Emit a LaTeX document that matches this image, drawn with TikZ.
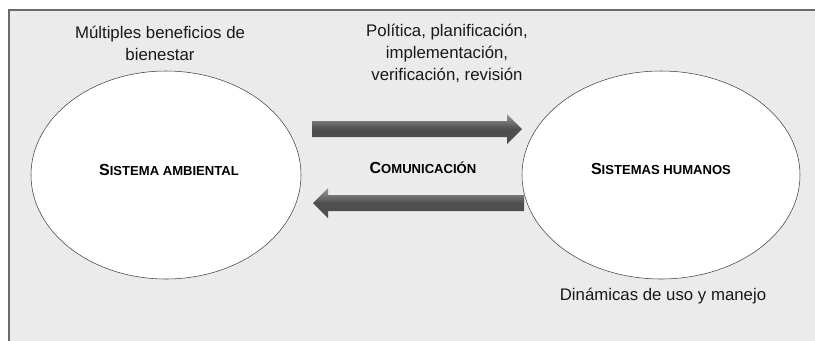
\documentclass[tikz,border=0pt]{standalone}
\usepackage{fontspec}
\setmainfont{Liberation Sans}
\usetikzlibrary{shapes.geometric,calc}
\definecolor{bgc}{HTML}{EAEBEA}
\definecolor{framec}{HTML}{6A6A6A}
\definecolor{arrdark}{HTML}{4E4E4E}
\definecolor{arrlight}{HTML}{9A9A9A}
\newcommand{\mysc}[2]{{\bfseries\fontsize{12}{14}\selectfont #1\fontsize{9.8}{14}\selectfont #2}}
\tikzset{
  sysell/.style={ellipse, draw=black!75, line width=0.4pt, fill=white, inner sep=0pt},
  lbl/.style={font=\fontsize{12.6}{16.5}\selectfont, align=center, text=black!90, inner sep=0pt},
  arrowbody/.style={top color=arrlight, bottom color=arrdark, middle color=arrdark, draw=none},
}
\begin{document}
\begin{tikzpicture}[x=0.75pt,y=-0.75pt]
\useasboundingbox (0,0) rectangle (815,340);
\fill[white] (0,0) rectangle (815,340);
\fill[bgc] (9,10) rectangle (816,341);
\draw[framec, line width=1.3pt] (9,341) -- (9,10) -- (816,10);

\node[sysell, minimum width=202.5pt, minimum height=156pt] (amb) at (166,175) {};
\node[sysell, minimum width=208.5pt, minimum height=156pt] (hum) at (661,175) {};
\node at (169,170) {\mysc{S}{ISTEMA AMBIENTAL}};
\node at (661,169) {\mysc{S}{ISTEMAS HUMANOS}};
\node (com) at (423,168) {\mysc{C}{OMUNICACIÓN}};

\node[lbl] (ben) at (160,43) {Múltiples beneficios de\\bienestar};
\node[lbl] (pol) at (447,53) {Política, planificación,\\implementación,\\verificación, revisión};
\node[lbl] (din) at (663,296) {Dinámicas de uso y manejo};

% top arrow: left to right
\coordinate (t1) at (312,129);
\coordinate (t2) at (522,129);
\shade[arrowbody] ($(t1)+(0,-8)$) -- ($(t2)+(-15,-8)$) -- ($(t2)+(-15,-15)$) -- (t2) -- ($(t2)+(-15,15)$) -- ($(t2)+(-15,8)$) -- ($(t1)+(0,8)$) -- cycle;
% bottom arrow: right to left
\coordinate (b1) at (524,203);
\coordinate (b2) at (313,203);
\shade[arrowbody] ($(b1)+(0,-8)$) -- ($(b2)+(15,-8)$) -- ($(b2)+(15,-15)$) -- (b2) -- ($(b2)+(15,15)$) -- ($(b2)+(15,8)$) -- ($(b1)+(0,8)$) -- cycle;
\end{tikzpicture}
\end{document}
